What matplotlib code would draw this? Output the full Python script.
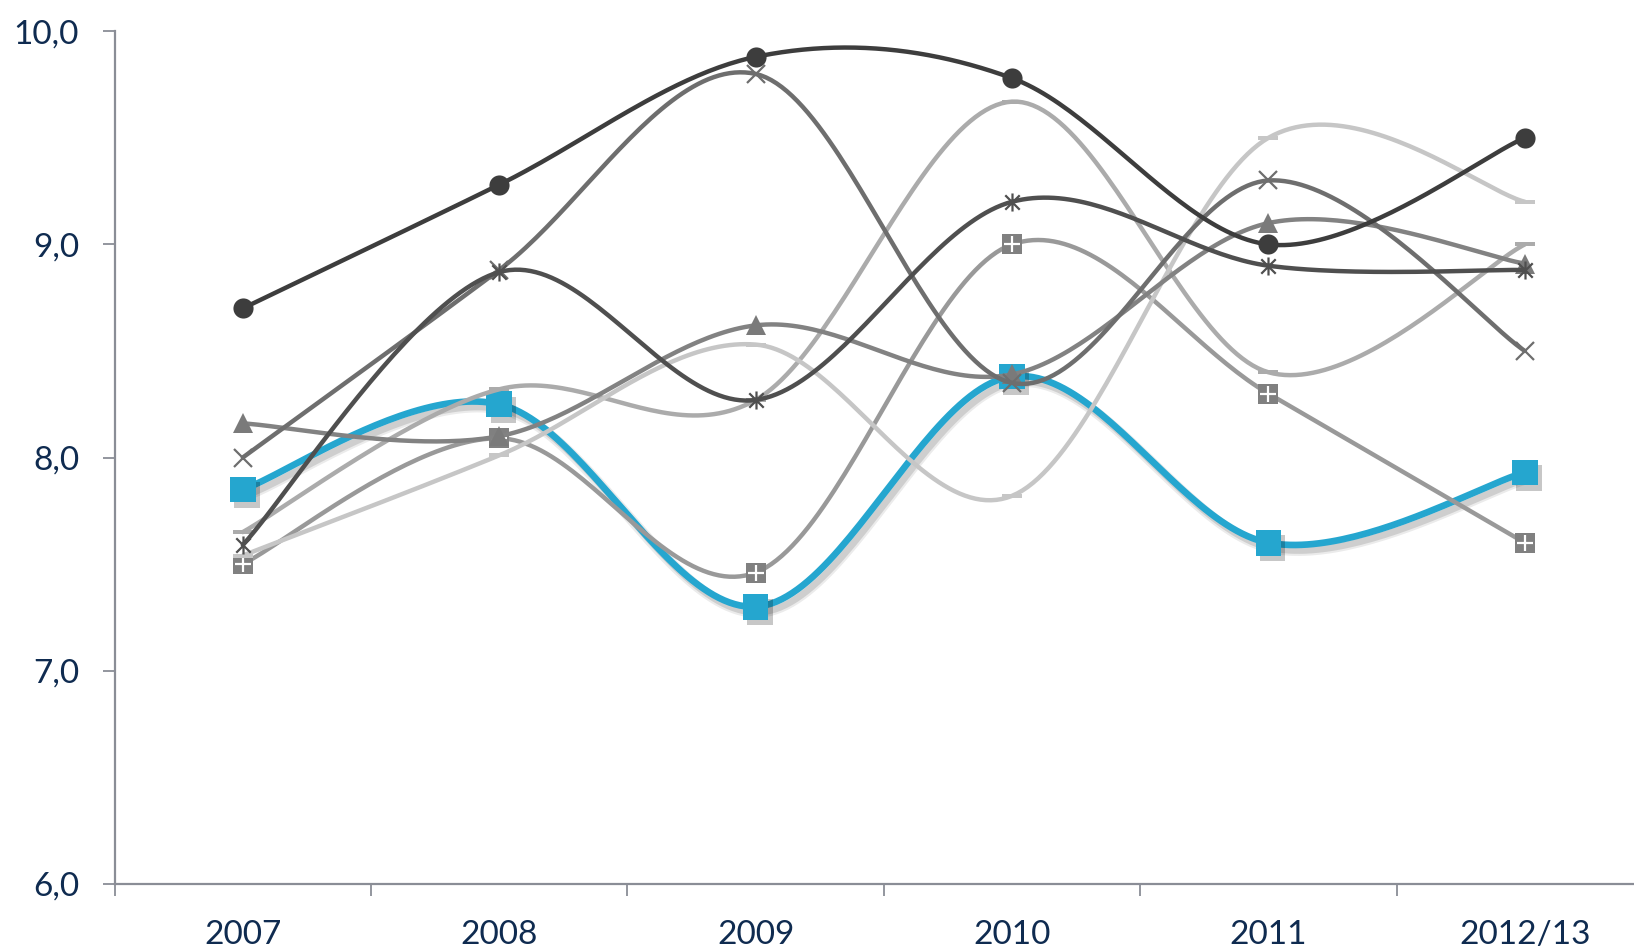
import numpy as np
import matplotlib
matplotlib.use("Agg")
import matplotlib.pyplot as plt
from matplotlib.path import Path
import matplotlib.patheffects as pe

# ---- data ----
categories = ["2007", "2008", "2009", "2010", "2011", "2012/13"]
series_circle = [8.70, 9.28, 9.88, 9.78, 9.00, 9.50]
series_x = [8.00, 8.88, 9.80, 8.35, 9.30, 8.50]
series_star = [7.59, 8.87, 8.27, 9.20, 8.90, 8.88]
series_triangle = [8.16, 8.10, 8.62, 8.39, 9.10, 8.91]
series_plus = [7.50, 8.09, 7.46, 9.00, 8.30, 7.60]
series_blue = [7.85, 8.25, 7.30, 8.38, 7.60, 7.93]
series_lightA = [7.65, 8.32, 8.27, 9.67, 8.40, 9.00]
series_lightB = [7.54, 8.01, 8.53, 7.82, 9.50, 9.20]
y_ticks = [6.0, 7.0, 8.0, 9.0, 10.0]

plt.rcParams['font.family'] = ['Lato', 'DejaVu Sans']

W, H = 1634, 948
fig = plt.figure(figsize=(W / 100, H / 100), dpi=100)
left = 114.6 / W
bottom = (H - 883.7) / H
height = (883.7 - 31.3) / H
width = 6 * 256.4 / W
ax = fig.add_axes([left, bottom, width, height])


def excel_smooth(xs, ys, n=50):
    pts = np.column_stack([np.asarray(xs, float), np.asarray(ys, float)])
    out = []
    for i in range(len(pts) - 1):
        p0 = pts[i - 1] if i > 0 else pts[i]
        p1 = pts[i]
        p2 = pts[i + 1]
        p3 = pts[i + 2] if i + 2 < len(pts) else pts[i + 1]
        c1 = p1 + (p2 - p0) / 6.0
        c2 = p2 - (p3 - p1) / 6.0
        t = np.linspace(0, 1, n)[:, None]
        seg = (1 - t) ** 3 * p1 + 3 * (1 - t) ** 2 * t * c1 + 3 * (1 - t) * t ** 2 * c2 + t ** 3 * p2
        out.append(seg if i == 0 else seg[1:])
    return np.vstack(out)


x = np.arange(len(categories))

ast_path = Path([(-1, -1), (1, 1), (-1, 1), (1, -1), (0, -1.25), (0, 1.25)],
                [Path.MOVETO, Path.LINETO, Path.MOVETO, Path.LINETO, Path.MOVETO, Path.LINETO])
dash_path = Path([(-1, -0.25), (1, -0.25), (1, 0.25), (-1, 0.25), (-1, -0.25)],
                 [Path.MOVETO, Path.LINETO, Path.LINETO, Path.LINETO, Path.CLOSEPOLY])

LW = 3.2


def draw_series(vals, color, z, marker=None, ms=14, mfc=None, mec=None, mew=1.5, lw=LW, shadow=False):
    c = excel_smooth(x, vals)
    line_pe = None
    mark_pe = None
    if shadow:
        line_pe = [pe.SimpleLineShadow(offset=(3, -4), shadow_color='k', alpha=0.08, linewidth=lw + 3),
                   pe.SimpleLineShadow(offset=(3, -4), shadow_color='k', alpha=0.12), pe.Normal()]
        mark_pe = [pe.SimplePatchShadow(offset=(3, -4), shadow_rgbFace='k', alpha=0.22), pe.Normal()]
    ax.plot(c[:, 0], c[:, 1], color=color, lw=lw, zorder=z, solid_capstyle='round',
            path_effects=line_pe)
    if marker is not None:
        ax.plot(x, vals, linestyle='none', marker=marker, ms=ms,
                mfc=mfc if mfc is not None else color,
                mec=mec if mec is not None else color, mew=mew, zorder=z + 0.5,
                path_effects=mark_pe)


draw_series(series_blue, '#25a6cf', 2, marker='s', ms=18.5, lw=4.8, mew=0, shadow=True)
draw_series(series_plus, '#999999', 3, marker='s', ms=14, mfc='#808080', mec='#808080', mew=0)
ax.plot(x, series_plus, linestyle='none', marker='+', ms=11, mec='white', mew=1.6, zorder=3.7)
draw_series(series_lightA, '#ababab', 4, marker=dash_path, ms=14, mew=0)
draw_series(series_lightB, '#c6c6c6', 5, marker=dash_path, ms=14, mew=0)
draw_series(series_triangle, '#828282', 6, marker='^', ms=14.5, mew=0, mfc='#7a7a7a')
draw_series(series_x, '#6e6e6e', 7, marker='x', ms=13, mew=1.6)
draw_series(series_star, '#4f4f4f', 8, marker=ast_path, ms=13, mew=1.6, mfc='none')
draw_series(series_circle, '#3d3d3d', 9, marker='o', ms=14.5, mew=0)

# ---- axes styling ----
ax.set_xlim(-0.5, len(categories) - 0.5)
ax.set_ylim(6.0, 10.0)
for s in ['top', 'right']:
    ax.spines[s].set_visible(False)
axis_col = '#8a8d96'
ax.spines['left'].set_color(axis_col)
ax.spines['bottom'].set_color(axis_col)
ax.spines['left'].set_linewidth(1.6)
ax.spines['bottom'].set_linewidth(1.6)

ax.set_yticks(y_ticks)
ax.set_yticklabels([f"{v:.1f}".replace('.', ',') for v in y_ticks])
ax.tick_params(axis='y', length=8.6, width=1.3, color=axis_col, pad=17,
               labelsize=24, labelcolor='#0f2b50')

ax.set_xticks(np.arange(-0.5, len(categories), 1.0))
ax.set_xticklabels([])
ax.set_xticks(x, minor=True)
ax.set_xticklabels(categories, minor=True)
ax.tick_params(axis='x', which='major', length=8.6, width=1.3, color=axis_col)
ax.tick_params(axis='x', which='minor', length=0, pad=26, labelsize=24, labelcolor='#0f2b50')

ax.set_facecolor('white')
fig.patch.set_facecolor('white')
fig.savefig('out.png', dpi=100)
